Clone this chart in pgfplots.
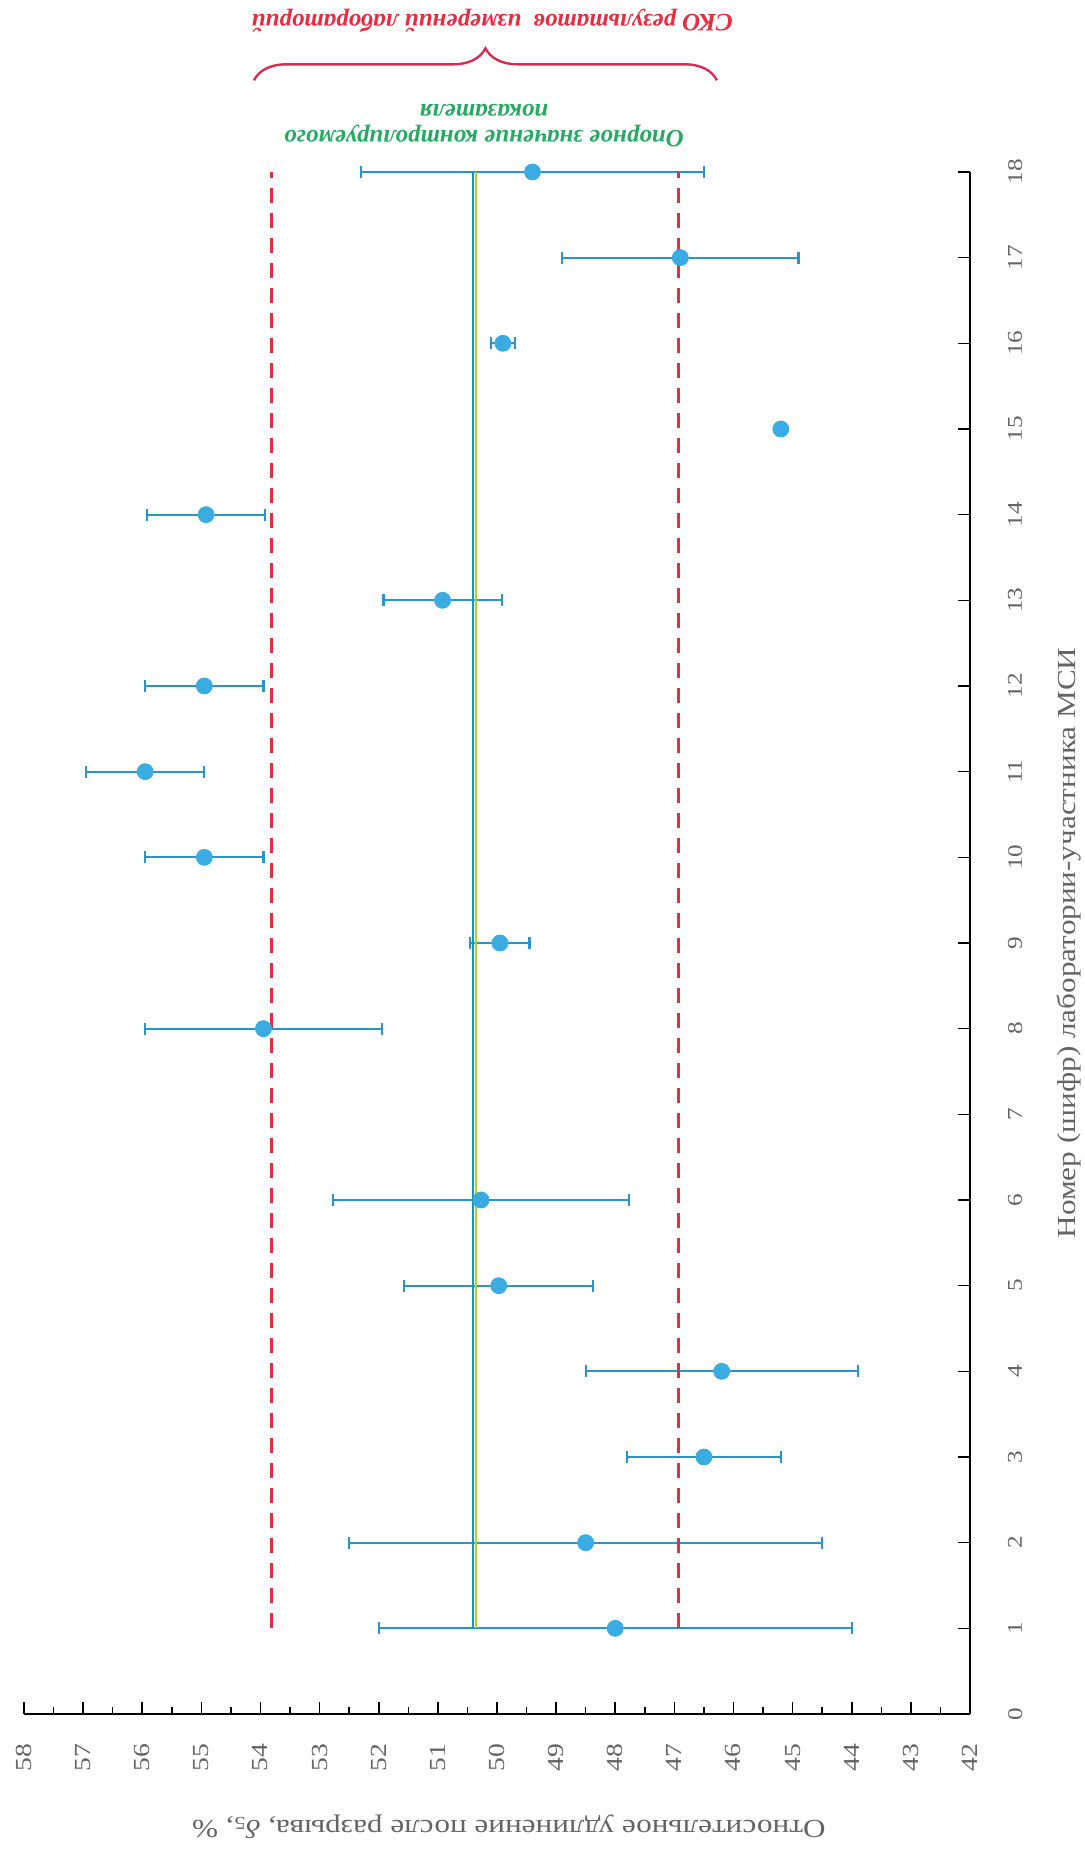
\documentclass[border=0pt]{standalone}
\usepackage{fontspec}
\setmainfont{Liberation Serif}
\newfontfamily\axfont[FakeStretch=1.2]{Liberation Serif}
\usepackage{pgfplots}
\usepackage{pgfplotstable}
\pgfplotsset{compat=1.18}
\usetikzlibrary{decorations.pathreplacing}
\definecolor{ptblue}{RGB}{59,172,226}
\definecolor{barblue}{RGB}{40,150,205}
\definecolor{dred}{RGB}{232,45,65}
\definecolor{bred}{RGB}{214,45,80}
\definecolor{refgreen}{RGB}{165,215,50}
\definecolor{refteal}{RGB}{25,150,175}
\definecolor{txtgreen}{RGB}{40,170,100}
\definecolor{axgray}{RGB}{100,100,100}

\pgfplotstableread{
lab val err
1 48.0 4.0
2 48.5 4.0
3 46.5 1.3
4 46.2 2.3
5 49.97 1.6
6 50.27 2.5
8 53.95 2.0
9 49.95 0.5
10 54.95 1.0
11 55.95 1.0
12 54.95 1.0
13 50.92 1.0
14 54.92 1.0
15 45.2 0.05
16 49.9 0.2
17 46.9 2.0
18 49.4 2.9
}\labdata

\begin{document}
\begin{tikzpicture}
\begin{axis}[
  scale only axis, width=473pt, height=771pt,
  xmin=42, xmax=58, x dir=reverse,
  ymin=0, ymax=18,
  axis x line=bottom, axis y line=right,
  axis line style={-, line width=1pt, black},
  xtick={42,...,58}, minor x tick num=1,
  ytick={0,...,18},
  tick align=inside,
  major tick length=6pt, minor tick length=3.5pt,
  tick style={black, line width=0.8pt},
  /pgf/number format/assume math mode=true,
  xticklabel style={rotate=90, anchor=east, text=axgray, font=\axfont\fontsize{11.5}{12}\selectfont},
  yticklabel style={rotate=90, anchor=north, text=axgray, font=\axfont\fontsize{10.5}{12}\selectfont},
  xticklabel shift=11.5pt,
  yticklabel shift=15.5pt,
  clip=false,
]
\addplot[only marks, mark=*, mark size=4pt, color=ptblue,
  mark options={draw=ptblue, fill=ptblue},
  error bars/.cd, x dir=both, x explicit,
  error mark=|,
  error bar style={barblue, line width=1.1pt},
  error mark options={barblue, line width=1.1pt, mark size=3pt}]
  table[x=val, y=lab, x error=err] {\labdata};

\addplot[refteal, line width=0.9pt] coordinates {(50.41,1) (50.41,18)};
\addplot[refgreen, line width=0.9pt] coordinates {(50.36,1) (50.36,18)};
\addplot[dred, line width=1.5pt, dash pattern=on 7.5pt off 5pt] coordinates {(53.82,1) (53.82,18)};
\addplot[dred, line width=1.5pt, dash pattern=on 7.5pt off 5pt] coordinates {(46.93,1) (46.93,18)};

\draw[bred, line width=1.2pt, decorate, decoration={brace, amplitude=16pt}]
  (axis cs:54.11,19.07) -- (axis cs:46.28,19.07);
\node[rotate=180, text=dred, font=\bfseries\itshape\fontsize{12.5}{14}\selectfont]
  at (axis cs:50.08,19.76) {СКО результатов\ \ измерений лабораторий};
\node[rotate=180, align=center, text=txtgreen, font=\bfseries\itshape\fontsize{12.5}{13}\selectfont]
  at (axis cs:50.22,18.54) {Опорное значение контролируемого\\показателя};
\node[rotate=180, text=axgray, font=\axfont\fontsize{13}{15}\selectfont]
  at (axis cs:49.8,-1.32) {Относительное удлинение после разрыва, \textit{δ}\textsubscript{5}, \%};
\node[rotate=90, text=axgray, font=\axfont\fontsize{13}{15}\selectfont]
  at (axis cs:40.33,9) {Номер (шифр) лаборатории-участника МСИ};

\coordinate (BL) at (axis cs:58,0);
\coordinate (TR) at (axis cs:42,18);
\end{axis}
\pgfresetboundingbox
\path ([shift={(-12pt,-69pt)}]BL) rectangle ([shift={(57.5pt,86pt)}]TR);
\end{tikzpicture}
\end{document}
